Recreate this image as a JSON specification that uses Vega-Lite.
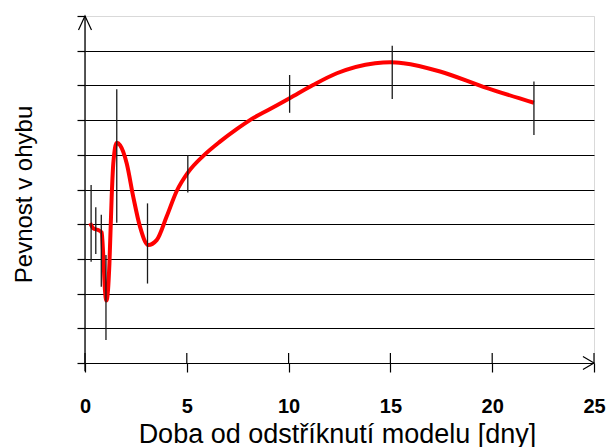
{
  "$schema": "https://vega.github.io/schema/vega-lite/v6.json",
  "width": 509,
  "height": 347,
  "autosize": "none",
  "padding": {"left": 85, "top": 16, "right": 15, "bottom": 84},
  "background": "white",
  "config": {
    "view": {"stroke": "#d9d9d9"},
    "font": "Liberation Sans"
  },
  "datasets": {
    "curve": [
      {"day": 0.25, "value": 4.03},
      {"day": 0.41, "value": 3.88},
      {"day": 0.65, "value": 3.83},
      {"day": 0.82, "value": 3.76},
      {"day": 0.9, "value": 3.06},
      {"day": 0.98, "value": 2.1},
      {"day": 1.05, "value": 1.8},
      {"day": 1.13, "value": 2.1},
      {"day": 1.2, "value": 2.87},
      {"day": 1.31, "value": 4.79},
      {"day": 1.39, "value": 5.75},
      {"day": 1.56, "value": 6.35},
      {"day": 1.72, "value": 6.28},
      {"day": 2.05, "value": 5.75},
      {"day": 2.37, "value": 4.79},
      {"day": 2.7, "value": 3.93},
      {"day": 3.11, "value": 3.4},
      {"day": 3.52, "value": 3.54},
      {"day": 4.01, "value": 4.22},
      {"day": 4.5, "value": 4.95},
      {"day": 5.07, "value": 5.5},
      {"day": 5.81, "value": 5.97},
      {"day": 6.63, "value": 6.38},
      {"day": 7.45, "value": 6.74},
      {"day": 8.1, "value": 7.0},
      {"day": 9.09, "value": 7.32},
      {"day": 10.05, "value": 7.63},
      {"day": 11.2, "value": 8.01},
      {"day": 12.37, "value": 8.35},
      {"day": 14.25, "value": 8.64},
      {"day": 15.0, "value": 8.67},
      {"day": 15.64, "value": 8.64},
      {"day": 17.44, "value": 8.4},
      {"day": 19.56, "value": 7.96},
      {"day": 22.05, "value": 7.5}
    ],
    "bars": [
      {"day": 0.3, "value": 2.92, "value2": 5.13},
      {"day": 0.53, "value": 3.14, "value2": 4.49},
      {"day": 0.8, "value": 2.2, "value2": 4.27},
      {"day": 1.03, "value": 0.66, "value2": 3.11},
      {"day": 1.56, "value": 4.04, "value2": 7.89},
      {"day": 3.07, "value": 2.29, "value2": 4.6},
      {"day": 5.05, "value": 4.91, "value2": 5.99},
      {"day": 10.05, "value": 7.21, "value2": 8.3},
      {"day": 15.09, "value": 7.61, "value2": 9.14},
      {"day": 22.05, "value": 6.57, "value2": 8.11}
    ],
    "yAxisLine": [
      {"day": 0, "value": -0.24, "value2": 10}
    ],
    "xTickMarks": [
      {"day": 0, "value": 0, "value2": 0.29},
      {"day": 5, "value": 0, "value2": 0.29},
      {"day": 10, "value": 0, "value2": 0.29},
      {"day": 15, "value": 0, "value2": 0.29},
      {"day": 20, "value": 0, "value2": 0.29},
      {"day": 25, "value": 0, "value2": 0.29}
    ],
    "arrowUp": [{"day": 0, "value": 10}],
    "arrowRight": [{"day": 25, "value": 0}]
  },
  "encoding": {
    "x": {
      "field": "day",
      "type": "quantitative",
      "scale": {"domain": [0, 25], "nice": false, "zero": false},
      "axis": {
        "values": [0, 5, 10, 15, 20, 25],
        "domain": false,
        "grid": false,
        "tickSize": 9,
        "tickColor": "#000",
        "tickWidth": 1.2,
        "labelFontSize": 20,
        "labelFontWeight": "bold",
        "labelColor": "#000",
        "labelPadding": 24,
        "labelFlush": false,
        "title": "Doba od odstříknutí modelu [dny]",
        "titleFontSize": 27,
        "titleFontWeight": "normal",
        "titleColor": "#000",
        "titlePadding": 5,
        "titleX": 252
      }
    },
    "y": {
      "field": "value",
      "type": "quantitative",
      "scale": {"domain": [0, 10], "nice": false, "zero": false},
      "axis": {
        "values": [0, 1, 2, 3, 4, 5, 6, 7, 8, 9, 10],
        "domain": false,
        "grid": true,
        "gridColor": {"condition": {"test": "datum.value === 10", "value": "#d9d9d9"}, "value": "#000"},
        "gridWidth": 1.2,
        "gridOpacity": 1,
        "tickSize": 8,
        "tickColor": "#000",
        "tickWidth": 1.2,
        "labels": false,
        "title": "Pevnost v ohybu",
        "titleFontSize": 24,
        "titleFontWeight": "normal",
        "titleColor": "#000",
        "titlePadding": 40,
        "titleY": 178
      }
    }
  },
  "layer": [
    {
      "data": {"name": "curve"},
      "mark": {"type": "line", "color": "#ff0000", "strokeWidth": 4, "interpolate": "monotone"}
    },
    {
      "data": {"name": "bars"},
      "mark": {"type": "rule", "color": "#1a1a1a", "strokeWidth": 1.3},
      "encoding": {"y2": {"field": "value2"}}
    },
    {
      "data": {"name": "yAxisLine"},
      "mark": {"type": "rule", "color": "#000", "strokeWidth": 1.3},
      "encoding": {"y2": {"field": "value2"}}
    },
    {
      "data": {"name": "xTickMarks"},
      "mark": {"type": "rule", "color": "#000", "strokeWidth": 1.2},
      "encoding": {"y2": {"field": "value2"}}
    },
    {
      "data": {"name": "arrowUp"},
      "mark": {"type": "point", "shape": "M-1,2.15L0,0L1,2.15", "filled": false, "stroke": "#000", "strokeWidth": 1.2, "size": 169, "opacity": 1}
    },
    {
      "data": {"name": "arrowRight"},
      "mark": {"type": "point", "shape": "M-1.7,-1L0,0L-1.7,1", "filled": false, "stroke": "#000", "strokeWidth": 1.2, "size": 169, "opacity": 1}
    }
  ]
}
